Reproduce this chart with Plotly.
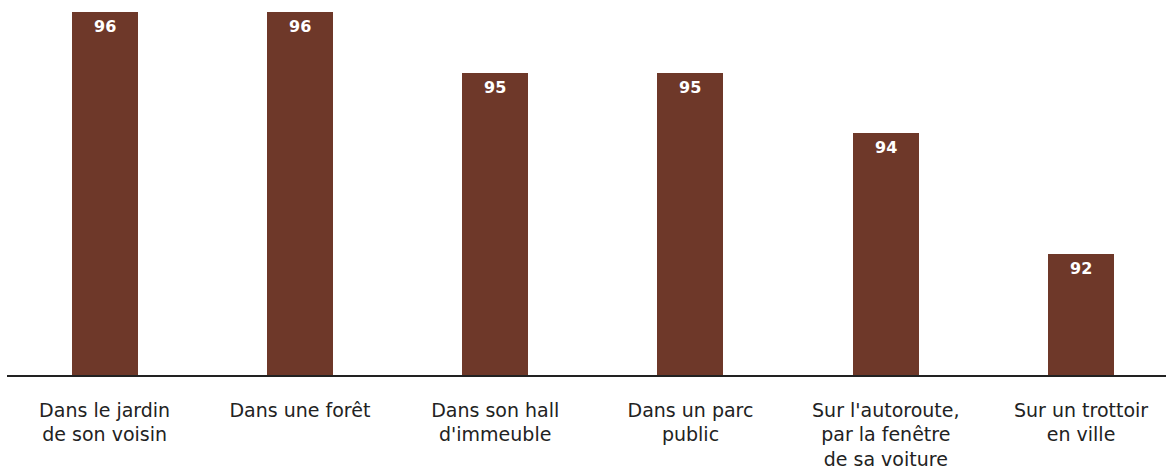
import plotly.graph_objects as go

categories = ["Dans le jardin<br>de son voisin", "Dans une forêt", "Dans son hall<br>d'immeuble",
              "Dans un parc<br>public", "Sur l'autoroute,<br>par la fenêtre<br>de sa voiture",
              "Sur un trottoir<br>en ville"]
values = [96, 96, 95, 95, 94, 92]

bar_color = "#6e3829"
font_family = "DejaVu Sans, Open Sans, sans-serif"

fig = go.Figure()
fig.add_trace(go.Bar(
    x=list(range(len(categories))), y=values, base=0,
    marker=dict(color=bar_color, line=dict(width=0)),
    width=0.338,
    hoverinfo="skip",
))

for i, v in enumerate(values):
    fig.add_annotation(x=i, y=v, text=f"<b>{v}</b>", showarrow=False,
                       yanchor="top", yshift=-3,
                       font=dict(family=font_family, size=16, color="white"))

fig.update_layout(
    width=1166, height=474,
    margin=dict(l=7, r=0, t=0, b=99),
    paper_bgcolor="white", plot_bgcolor="white",
    showlegend=False,
    font=dict(family=font_family, size=19, color="#222222"),
    xaxis=dict(tickmode="array", tickvals=list(range(len(categories))), ticktext=categories,
               range=[-0.5, 5.435], showgrid=False, zeroline=False, automargin=False,
               showline=True, linecolor="#222222", linewidth=1.5, ticks="",
               tickfont=dict(size=19, color="#222222"), ticklabelstandoff=17),
    yaxis=dict(range=[90, 96.2], visible=False, showgrid=False, zeroline=False, automargin=False),
    bargap=0,
)

fig.write_html("out.html")
